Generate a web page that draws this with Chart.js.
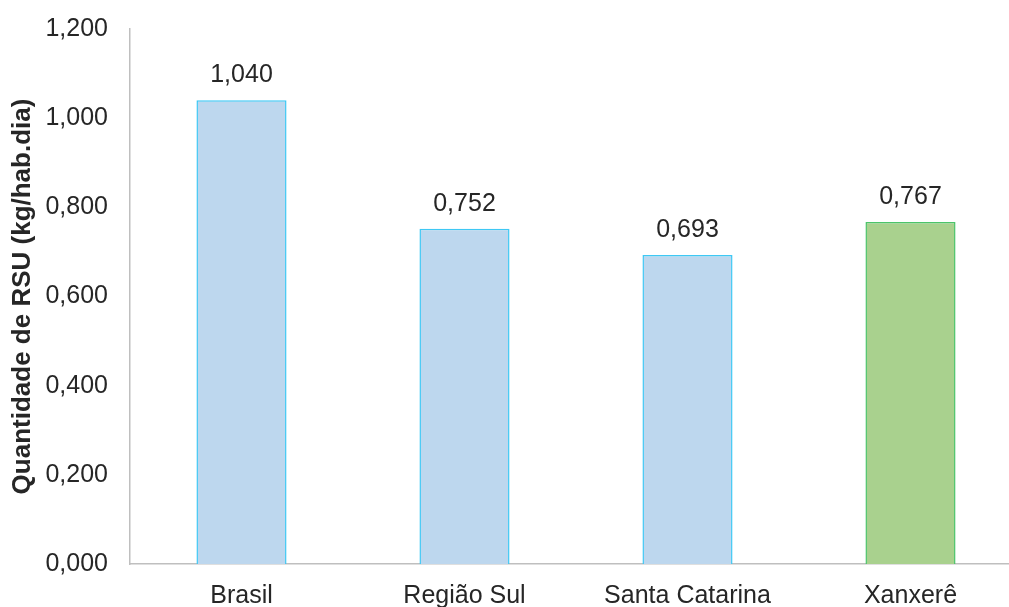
<!DOCTYPE html>
<html>
<head>
<meta charset="utf-8">
<script src="https://cdn.jsdelivr.net/npm/chart.js@4"></script>
<style>
  html, body { margin: 0; padding: 0; background: #fff; overflow: hidden; }
  #wrap { position: absolute; left: 0; top: -8px; width: 1024px; height: 615px; }
</style>
</head>
<body>
<div id="wrap"><canvas id="rsuChart"></canvas></div>
<script>
// Data
const regions = ['Brasil', 'Região Sul', 'Santa Catarina', 'Xanxerê'];
const rsuPerCapita = [1.040, 0.752, 0.693, 0.767];
const yTicks = [0, 0.2, 0.4, 0.6, 0.8, 1.0, 1.2];

const fillColors = ['#BDD7EE', '#BDD7EE', '#BDD7EE', '#A9D18E'];
const lineColors = ['#3FC8F4', '#3FC8F4', '#3FC8F4', '#4CC46A'];

const textColor = '#262626';
const fontFamily = '"Liberation Sans", Arial, sans-serif';
const fmt = (v) => v.toFixed(3).replace('.', ',');

// Value labels above each bar
const barLabels = {
  id: 'barLabels',
  afterDatasetsDraw(chart) {
    const ctx = chart.ctx;
    const meta = chart.getDatasetMeta(0);
    ctx.save();
    ctx.font = '25px ' + fontFamily;
    ctx.fillStyle = textColor;
    ctx.textAlign = 'center';
    ctx.textBaseline = 'middle';
    meta.data.forEach((bar, i) => {
      ctx.fillText(fmt(chart.data.datasets[0].data[i]), bar.x, bar.y - 25);
    });
    ctx.restore();
  },
};

// Initialize Chart
function initChart() {
  const ctx = document.getElementById('rsuChart').getContext('2d');

  new Chart(ctx, {
    type: 'bar',
    data: {
      labels: regions,
      datasets: [
        {
          data: rsuPerCapita,
          backgroundColor: fillColors,
          borderColor: lineColors,
          borderWidth: 1.5,
          barPercentage: 0.404,
          categoryPercentage: 1,
        },
      ],
    },
    options: {
      responsive: true,
      maintainAspectRatio: false,
      animation: false,
      layout: {
        padding: { top: 12, right: 2, left: 0, bottom: 0 },
      },
      plugins: {
        legend: { display: false },
        tooltip: { enabled: false },
      },
      scales: {
        x: {
          grid: { display: false, drawTicks: false },
          border: { display: true, color: '#BFBFBF', width: 1.5 },
          ticks: {
            color: textColor,
            padding: 17,
            font: { family: fontFamily, size: 25 },
          },
          afterFit(scale) {
            scale.height = 43;
          },
        },
        y: {
          min: 0,
          max: 1.2,
          afterBuildTicks(scale) {
            scale.ticks = yTicks.map((v) => ({ value: v }));
          },
          grid: { display: false, drawTicks: false },
          border: { display: true, color: '#BFBFBF', width: 1.5 },
          ticks: {
            color: textColor,
            padding: 22,
            font: { family: fontFamily, size: 25 },
            callback: (v) => fmt(v),
          },
          title: {
            display: true,
            text: 'Quantidade de RSU (kg/hab.dia)',
            color: textColor,
            padding: { top: 7, bottom: 0 },
            font: { family: fontFamily, size: 26, weight: 'bold' },
          },
          afterFit(scale) {
            scale.width = 130;
          },
        },
      },
    },
    plugins: [barLabels],
  });
}

document.addEventListener('DOMContentLoaded', initChart);
</script>
</body>
</html>
